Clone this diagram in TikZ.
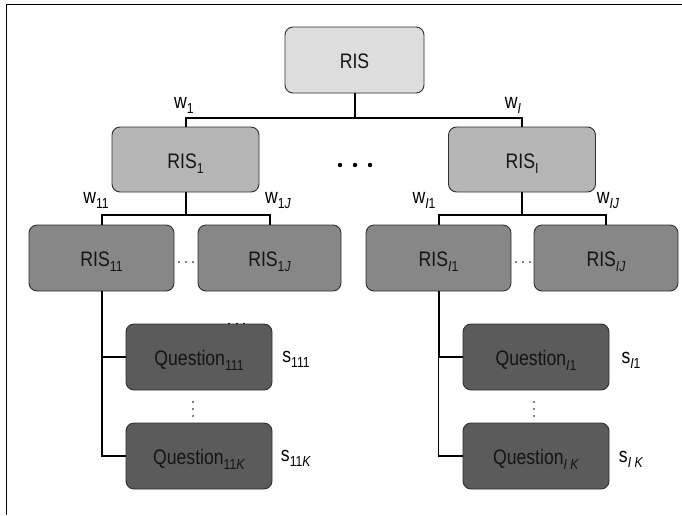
\documentclass[tikz,border=0pt]{standalone}
\usepackage{fontspec}
\setmainfont{Liberation Sans}[FakeStretch=0.84]
% lowered, smaller index text
\newcommand{\lo}[1]{\raisebox{-5pt}{\fontsize{14.5pt}{14.5pt}\selectfont #1}}
\newcommand{\iv}[1]{\textit{#1}}
\definecolor{lvlzero}{HTML}{DDDDDD}
\definecolor{lvlone}{HTML}{B6B6B6}
\definecolor{lvltwo}{HTML}{878787}
\definecolor{lvlthree}{HTML}{5B5B5B}
\definecolor{boxline}{HTML}{2E2E2E}
\tikzset{
  box/.style={draw=boxline, line width=0.9pt, rounded corners=8pt,
    minimum width=146pt, minimum height=66pt, inner sep=0pt,
    text height=18pt, text depth=1pt,
    font=\fontsize{21pt}{21pt}\selectfont, text=black!92},
  conn/.style={line width=2pt, black},
  thinconn/.style={line width=1.1pt, black},
  lbl/.style={font=\fontsize{21pt}{21pt}\selectfont, inner sep=0pt, anchor=base},
  bigdot/.style={fill=black, draw=none},
}
\begin{document}
\begin{tikzpicture}[x=1pt, y=-1pt]
\useasboundingbox (0,0) rectangle (682,515);
% frame
\draw[line width=1pt] (682,4.5) -- (6,4.5) -- (6,515);

% small dots partly hidden by the first question box
\foreach \xx in {229,237,244} \fill (\xx,323.5) circle (1pt);

% tree of boxes
\node[box, fill=lvlzero, minimum width=139pt, text height=16pt, text depth=0pt] (ris) at (354.5,60) {RIS};
\node[box, fill=lvlone, minimum width=147pt, minimum height=65pt] (ris1) at (185.5,159.5) {RIS\lo{1}};
\node[box, fill=lvlone, minimum width=147pt, minimum height=65pt] (risI) at (522,159.5) {RIS\lo{I}};
\node[box, fill=lvltwo, minimum width=145pt] (ris11) at (101.5,258) {RIS\lo{11}};
\node[box, fill=lvltwo, minimum width=143pt] (ris1J) at (269.5,258) {RIS\lo{1\iv{J}}};
\node[box, fill=lvltwo, minimum width=145pt] (risI1) at (438.5,258) {RIS\lo{\iv{I}1}};
\node[box, fill=lvltwo, minimum width=144pt] (risIJ) at (606,258) {RIS\lo{\iv{IJ}}};
\node[box, fill=lvlthree] (q111) at (199,357) {Question\lo{111}};
\node[box, fill=lvlthree] (q11K) at (199,456) {Question\lo{11\iv{K}}};
\node[box, fill=lvlthree] (qI11) at (536,357) {Question\lo{\iv{I}1}};
\node[box, fill=lvlthree] (qI1K) at (536,456) {Question\lo{\iv{I} \iv{K}}};

% connectors
\draw[conn] (ris.south) -- ++(0,25);
\draw[conn] (ris1.north) -- ++(0,-9) -| (risI.north);
\draw[conn] (ris1.south) -- ++(0,23);
\draw[conn] (ris11.north) -- ++(0,-10) -| (ris1J.north);
\draw[conn] (risI.south) -- ++(0,23);
\draw[conn] (risI1.north) -- ++(0,-10) -| (risIJ.north);
\draw[conn] (ris11.south) |- (q111.west);
\draw[conn] (ris11.south) |- (q11K.west);
\draw[conn] (risI1.south) |- (qI11.west);
\draw[thinconn] (risI1.south |- qI11.west) |- (qI1K.west);

% weights
\node[lbl] (w1) at (184,108) {w\lo{1}};
\node[lbl] (wI) at (513,108) {w\lo{\iv{I}}};
\node[lbl] (w11) at (96,203) {w\lo{11}};
\node[lbl] (w1J) at (278,203) {w\lo{1\iv{J}}};
\node[lbl] (wI1) at (424,203) {w\lo{\iv{I}1}};
\node[lbl] (wIJ) at (608,203) {w\lo{\iv{IJ}}};

% scores
\node[lbl] (s111) at (296,362) {s\lo{111}};
\node[lbl] (s11K) at (296,461) {s\lo{11\iv{K}}};
\node[lbl] (sI11) at (631,363) {s\lo{\iv{I}1}};
\node[lbl] (sI1K) at (631,462) {s\lo{\iv{I} \iv{K}}};

% ellipses
\foreach \xx in {340,355,370} \fill[bigdot] (\xx,165) circle (2.2pt);
\foreach \xx in {179,186,193} \fill (\xx,262) circle (0.8pt);
\foreach \xx in {516,523,530} \fill (\xx,262) circle (0.8pt);
\foreach \yy in {402,409,416} \fill (193,\yy) circle (0.9pt);
\foreach \yy in {402,409,416} \fill (534,\yy) circle (0.9pt);
\end{tikzpicture}
\end{document}
